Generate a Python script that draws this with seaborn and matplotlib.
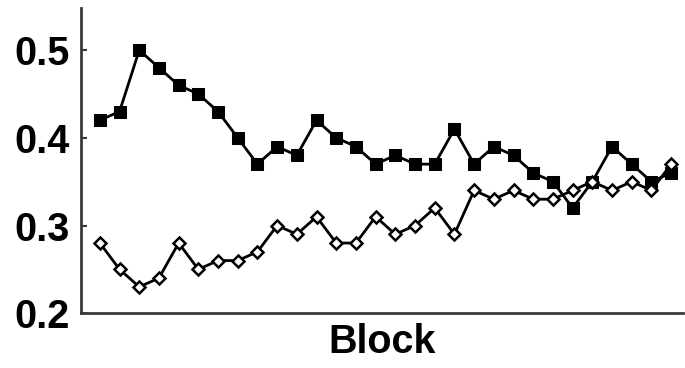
import matplotlib
matplotlib.use("Agg")
import matplotlib.pyplot as plt
import seaborn as sns
import pandas as pd

# Proportion per block for the two conditions
blocks = list(range(1, 31))
filled_vals = [0.42, 0.43, 0.50, 0.48, 0.46, 0.45, 0.43, 0.40, 0.37, 0.39,
               0.38, 0.42, 0.40, 0.39, 0.37, 0.38, 0.37, 0.37, 0.41, 0.37,
               0.39, 0.38, 0.36, 0.35, 0.32, 0.35, 0.39, 0.37, 0.35, 0.36]
open_vals = [0.28, 0.25, 0.23, 0.24, 0.28, 0.25, 0.26, 0.26, 0.27, 0.30,
             0.29, 0.31, 0.28, 0.28, 0.31, 0.29, 0.30, 0.32, 0.29, 0.34,
             0.33, 0.34, 0.33, 0.33, 0.34, 0.35, 0.34, 0.35, 0.34, 0.37]
ytick_vals = [0.2, 0.3, 0.4, 0.5]
ytick_labels = ["0.2", "0.3", "0.4", "0.5"]

df = pd.DataFrame({"Block": blocks, "filled": filled_vals, "open": open_vals})

sns.set_theme(style="white")
plt.rcParams["font.family"] = ["Liberation Sans", "DejaVu Sans"]
plt.rcParams["text.color"] = "black"
plt.rcParams["axes.labelcolor"] = "black"
plt.rcParams["ytick.labelcolor"] = "black"

fig = plt.figure(figsize=(6.85, 3.68), dpi=100)
ax = fig.add_axes([0.118, 0.149, 0.879, 0.829])

sns.lineplot(data=df, x="Block", y="filled", ax=ax, color="black",
             marker="s", markersize=9, linewidth=2.0,
             markerfacecolor="black", markeredgecolor="black", zorder=2)
sns.lineplot(data=df, x="Block", y="open", ax=ax, color="black",
             marker="D", markersize=6.5, linewidth=2.0,
             markerfacecolor="white", markeredgecolor="black",
             markeredgewidth=1.8, zorder=3)

ax.set_xlim(0.035, 30.6)
ax.set_ylim(0.2, 0.548)
ax.set_yticks(ytick_vals)
ax.set_yticklabels(ytick_labels, fontsize=28.5, fontweight="bold", color="black")
ax.set_xticks([])
ax.set_ylabel("")
ax.set_xlabel("Block", fontsize=28.5, fontweight="bold", labelpad=7, color="black")

for side in ("top", "right"):
    ax.spines[side].set_visible(False)
for side in ("left", "bottom"):
    ax.spines[side].set_color("#3a3a3a")
    ax.spines[side].set_linewidth(2.0)

ax.tick_params(axis="y", direction="in", length=4, width=1.5,
               color="#3a3a3a", pad=8, left=True)

fig.savefig("out.png", dpi=100, facecolor="white")
